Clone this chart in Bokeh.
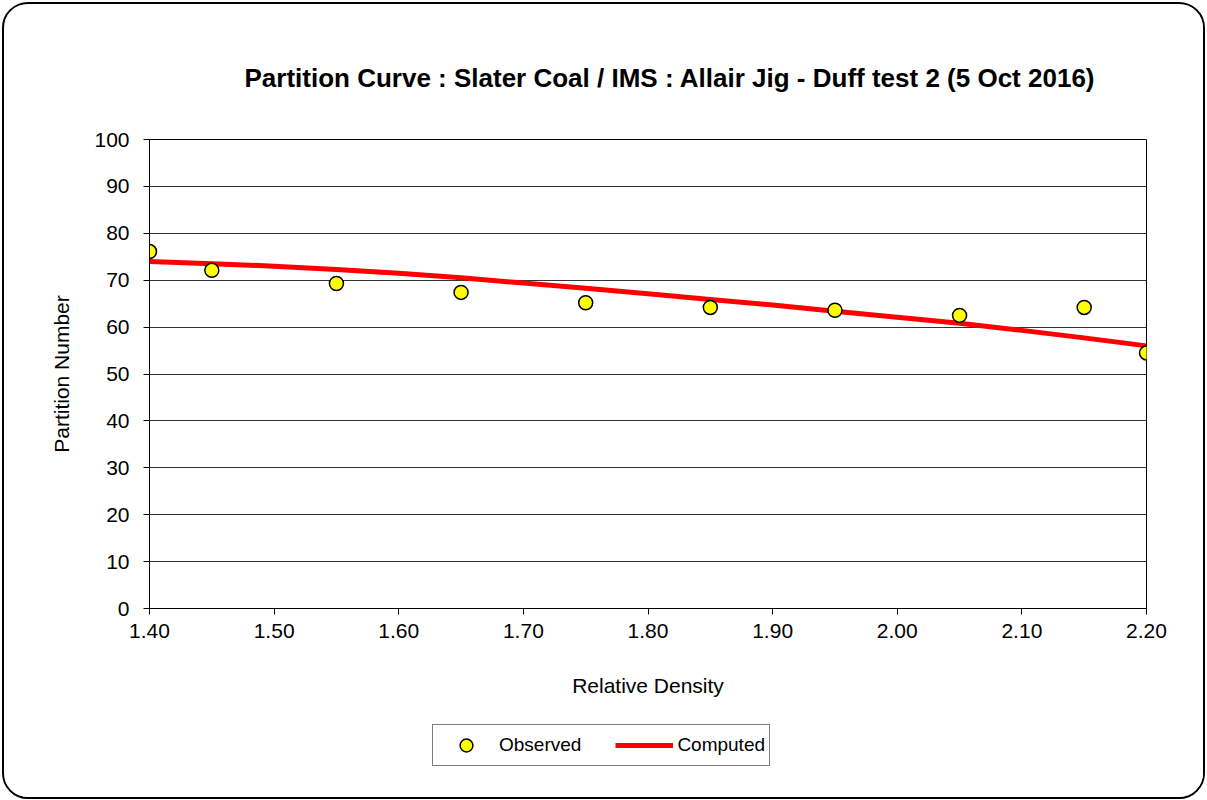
from bokeh.plotting import figure
from bokeh.models import Legend, LegendItem, Title, FixedTicker, Range1d
from bokeh.layouts import column
from bokeh.embed import file_html
from bokeh.resources import INLINE

# observed points
obs_x = [1.40, 1.45, 1.55, 1.65, 1.75, 1.85, 1.95, 2.05, 2.15, 2.20]
obs_y = [76.1, 72.1, 69.3, 67.4, 65.2, 64.2, 63.6, 62.5, 64.2, 54.5]

# computed curve
comp_x = [1.40, 1.45, 1.50, 1.55, 1.60, 1.65, 1.70, 1.75, 1.80, 1.85,
          1.90, 1.95, 2.00, 2.05, 2.10, 2.15, 2.20]
comp_y = [74.0, 73.5, 73.0, 72.3, 71.5, 70.5, 69.4, 68.3, 67.1, 65.9,
          64.7, 63.4, 62.1, 60.8, 59.3, 57.7, 56.0]

x_ticks = [1.40, 1.50, 1.60, 1.70, 1.80, 1.90, 2.00, 2.10, 2.20]
y_ticks = [0, 10, 20, 30, 40, 50, 60, 70, 80, 90, 100]

FONT = "Liberation Sans"

p = figure(width=1199, height=710, output_backend="svg", toolbar_location=None,
           x_range=Range1d(1.40, 2.20), y_range=Range1d(0, 100),
           min_border_left=145, min_border_right=57, min_border_top=135,
           min_border_bottom=106)

p.outline_line_color = "black"
p.outline_line_width = 1
p.background_fill_color = "white"
p.border_fill_color = "white"

title = Title(text="Partition Curve :  Slater Coal / IMS : Allair Jig - Duff test 2 (5 Oct 2016)",
              text_font=FONT, text_font_size="26px", text_font_style="bold",
              text_color="black", align="left", offset=95, standoff=93)
p.add_layout(title, "above")

p.xaxis.ticker = FixedTicker(ticks=x_ticks)
p.yaxis.ticker = FixedTicker(ticks=y_ticks)
p.xaxis.major_label_overrides = {t: f"{t:.2f}" for t in x_ticks}
p.xaxis.minor_tick_line_color = None
p.yaxis.minor_tick_line_color = None
for ax in (p.xaxis, p.yaxis):
    ax.axis_line_color = "black"
    ax.axis_line_width = 1
    ax.major_tick_line_color = "black"
    ax.major_tick_in = 0
    ax.major_tick_out = 6
    ax.major_label_text_font = FONT
    ax.major_label_text_font_size = "21px"
    ax.major_label_text_color = "black"
    ax.axis_label_text_font = FONT
    ax.axis_label_text_font_size = "21px"
    ax.axis_label_text_font_style = "normal"
    ax.axis_label_text_color = "black"
p.xaxis.axis_label = "Relative Density"
p.yaxis.axis_label = "Partition Number"
p.xaxis.major_label_standoff = 9
p.yaxis.major_label_standoff = 14
p.xaxis.axis_label_standoff = 33
p.yaxis.axis_label_standoff = 18

p.xgrid.grid_line_color = None
p.ygrid.grid_line_color = "#333333"
p.ygrid.grid_line_width = 1

line = p.line(comp_x, comp_y, line_color="#FF0000", line_width=5)
pts = p.scatter(obs_x, obs_y, size=14, fill_color="#FFFF00", line_color="black",
                line_width=1.5)

# legend strip: same series drawn out of view, used only as legend glyphs
p2 = figure(width=1199, height=83, output_backend="svg", toolbar_location=None,
            x_range=Range1d(0, 1), y_range=Range1d(0, 1),
            min_border_left=0, min_border_right=0, min_border_top=0,
            min_border_bottom=0)
p2.axis.visible = False
p2.grid.visible = False
p2.outline_line_color = None
p2.background_fill_color = "white"
p2.border_fill_color = "white"
leg_line = p2.line(comp_x, comp_y, line_color="#FF0000", line_width=5)
leg_pts = p2.scatter(obs_x, obs_y, size=14, fill_color="#FFFF00", line_color="black",
                     line_width=1.5)

legend = Legend(items=[LegendItem(label="Observed", renderers=[leg_pts]),
                       LegendItem(label="Computed", renderers=[leg_line])],
                orientation="horizontal", location=(283, 31),
                border_line_color="black", border_line_width=1,
                background_fill_color="white", background_fill_alpha=1,
                label_text_font=FONT, label_text_font_size="19px",
                label_text_color="black", glyph_width=58, glyph_height=32,
                label_standoff=4, spacing=34, padding=4, margin=0)
p2.add_layout(legend, "center")

layout = column(p, p2, spacing=0)
layout.styles = {"border": "2px solid black", "border-radius": "26px",
                 "overflow": "hidden", "margin-left": "2px", "margin-top": "2px",
                 "background-color": "white"}

open("out.html", "w").write(file_html(layout, INLINE))
